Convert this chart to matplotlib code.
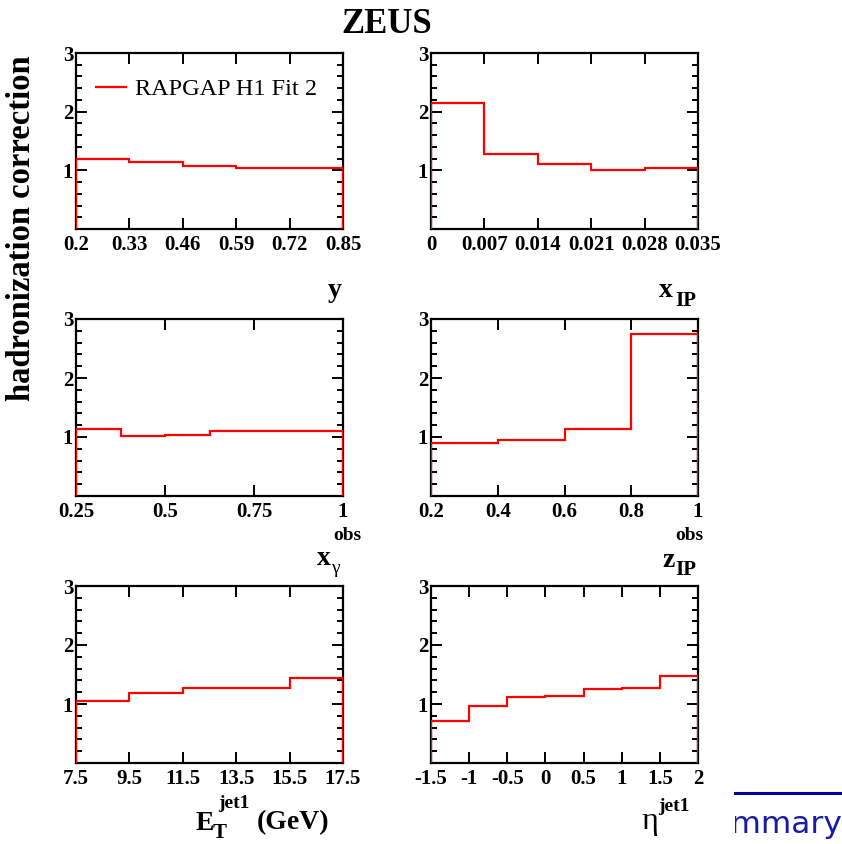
import matplotlib
matplotlib.use("Agg")
import matplotlib.pyplot as plt
from matplotlib.ticker import MultipleLocator, FixedLocator
from matplotlib.lines import Line2D

W, H = 842, 844
SERIF = "Liberation Serif"

# ---------------- data ----------------
y_edges = [0.2, 0.33, 0.46, 0.59, 0.72, 0.85]
y_vals = [1.20, 1.14, 1.08, 1.04, 1.04]
y_ticks = ["0.2", "0.33", "0.46", "0.59", "0.72", "0.85"]

xip_edges = [0.0, 0.007, 0.014, 0.021, 0.028, 0.035]
xip_vals = [2.15, 1.27, 1.11, 1.00, 1.04]
xip_ticks = ["0", "0.007", "0.014", "0.021", "0.028", "0.035"]

xg_edges = [0.25, 0.375, 0.5, 0.625, 1.0]
xg_vals = [1.14, 1.01, 1.04, 1.11]
xg_tickpos = [0.25, 0.5, 0.75, 1.0]
xg_ticks = ["0.25", "0.5", "0.75", "1"]

zip_edges = [0.2, 0.4, 0.6, 0.8, 1.0]
zip_vals = [0.89, 0.95, 1.14, 2.74]
zip_ticks = ["0.2", "0.4", "0.6", "0.8", "1"]

et_edges = [7.5, 9.5, 11.5, 15.5, 17.5]
et_vals = [1.05, 1.18, 1.27, 1.44]
et_tickpos = [7.5, 9.5, 11.5, 13.5, 15.5, 17.5]
et_ticks = ["7.5", "9.5", "11.5", "13.5", "15.5", "17.5"]

eta_edges = [-1.5, -1.0, -0.5, 0.0, 0.5, 1.0, 1.5, 2.0]
eta_vals = [0.72, 0.97, 1.12, 1.14, 1.25, 1.27, 1.47]
eta_tickpos = [-1.5, -1.0, -0.5, 0.0, 0.5, 1.0, 1.5, 2.0]
eta_ticks = ["-1.5", "-1", "-0.5", "0", "0.5", "1", "1.5", "2"]

legend_label = "RAPGAP H1 Fit 2"
ylabel = "hadronization correction"
title = "ZEUS"

fig = plt.figure(figsize=(W / 100, H / 100), dpi=100)


def rect(x0, y0, x1, y1):
    return [x0 / W, 1 - y1 / H, (x1 - x0) / W, (y1 - y0) / H]


def fx(x):
    return x / W


def fy(y):
    return 1 - y / H


def make_panel(r, edges, vals, tickpos, ticklabels):
    ax = fig.add_axes(r)
    ax.stairs(vals, edges, baseline=0, fill=False, color="#ff0000", lw=1.6, zorder=3)
    ax.set_xlim(edges[0], edges[-1])
    ax.set_ylim(0, 3)
    ax.xaxis.set_major_locator(FixedLocator(tickpos))
    ax.set_xticklabels(ticklabels)
    ax.yaxis.set_major_locator(FixedLocator([1, 2, 3]))
    ax.set_yticklabels(["1", "2", "3"])
    ax.yaxis.set_minor_locator(MultipleLocator(0.2))
    ax.tick_params(axis="both", which="both", direction="in", top=True, right=True,
                   width=1.4, color="black")
    ax.tick_params(axis="both", which="major", length=8, labelsize=15, pad=4)
    ax.tick_params(axis="y", which="minor", length=4.5)
    ax.tick_params(axis="x", which="minor", length=0)
    for lab in ax.get_xticklabels() + ax.get_yticklabels():
        lab.set_fontfamily(SERIF)
        lab.set_fontweight("bold")
    ax.tick_params(axis="y", pad=2)
    for s in ax.spines.values():
        s.set_linewidth(1.6)
    return ax


ax1 = make_panel(rect(76, 53, 343, 229), y_edges, y_vals, y_edges, y_ticks)
ax2 = make_panel(rect(431, 53, 698, 229), xip_edges, xip_vals, xip_edges, xip_ticks)
ax3 = make_panel(rect(76, 319, 343, 496), xg_edges, xg_vals, xg_tickpos, xg_ticks)
ax4 = make_panel(rect(431, 319, 698, 496), zip_edges, zip_vals, zip_edges, zip_ticks)
ax5 = make_panel(rect(76, 586, 343, 763), et_edges, et_vals, et_tickpos, et_ticks)
ax6 = make_panel(rect(431, 586, 698, 763), eta_edges, eta_vals, eta_tickpos, eta_ticks)

# legend in first panel
h = Line2D([0], [0], color="#ff0000", lw=1.6)
ax1.legend([h], [legend_label], loc="upper left", bbox_to_anchor=(0.02, 0.94),
           frameon=False, handlelength=1.25, handletextpad=0.35, borderaxespad=0.2,
           prop={"family": SERIF, "size": 17.5})

# title and y label
fig.text(fx(386.5), fy(33), title, ha="center", va="baseline",
         fontfamily=SERIF, fontweight="bold", fontsize=25)
fig.text(fx(21.5), fy(228), ylabel, ha="center", va="center", rotation=90,
         fontfamily=SERIF, fontweight="bold", fontsize=23.5)

BIG = 20
SMALL = 14


def t(x, y, s, size, weight="bold", **kw):
    fig.text(fx(x), fy(y), s, ha="left", va="baseline", fontfamily=SERIF,
             fontweight=weight, fontsize=size, **kw)


# panel 1: y
fig.text(fx(342), fy(297), "y", ha="right", va="baseline", fontfamily=SERIF,
         fontweight="bold", fontsize=BIG)
# panel 2: x_IP
t(659, 297, "x", BIG)
t(675, 306, "IP", SMALL + 1)
# panel 3: x_gamma^obs
t(317, 565, "x", BIG)
t(331, 573, "γ", SMALL, weight="normal")
t(333, 540, "obs", SMALL)
# panel 4: z_IP^obs
t(662, 567, "z", BIG)
t(675, 575, "IP", SMALL + 1)
t(675, 540, "obs", SMALL)
# panel 5: E_T^jet1 (GeV)
t(196, 830, "E", BIG)
t(213, 838, "T", SMALL + 1)
t(218, 808, "jet1", SMALL)
t(257, 829, "(GeV)", BIG)
# panel 6: eta^jet1
t(641, 829, "η", BIG + 3, weight="normal")
t(658, 811, "jet1", SMALL)

# slide remnant at bottom right
axs = fig.add_axes(rect(735, 780, 842, 844))
axs.set_xlim(0, 1)
axs.set_ylim(0, 1)
axs.axis("off")
axs.plot([0, 1], [0.8, 0.8], color="#0000a0", lw=2.2, clip_on=False)
axs.text(1.0, 0.17, "Summary", ha="right", va="baseline", color="#1a1aa8",
         fontfamily="DejaVu Sans", fontsize=22.5, clip_on=True)

fig.savefig("out.png", dpi=100)
